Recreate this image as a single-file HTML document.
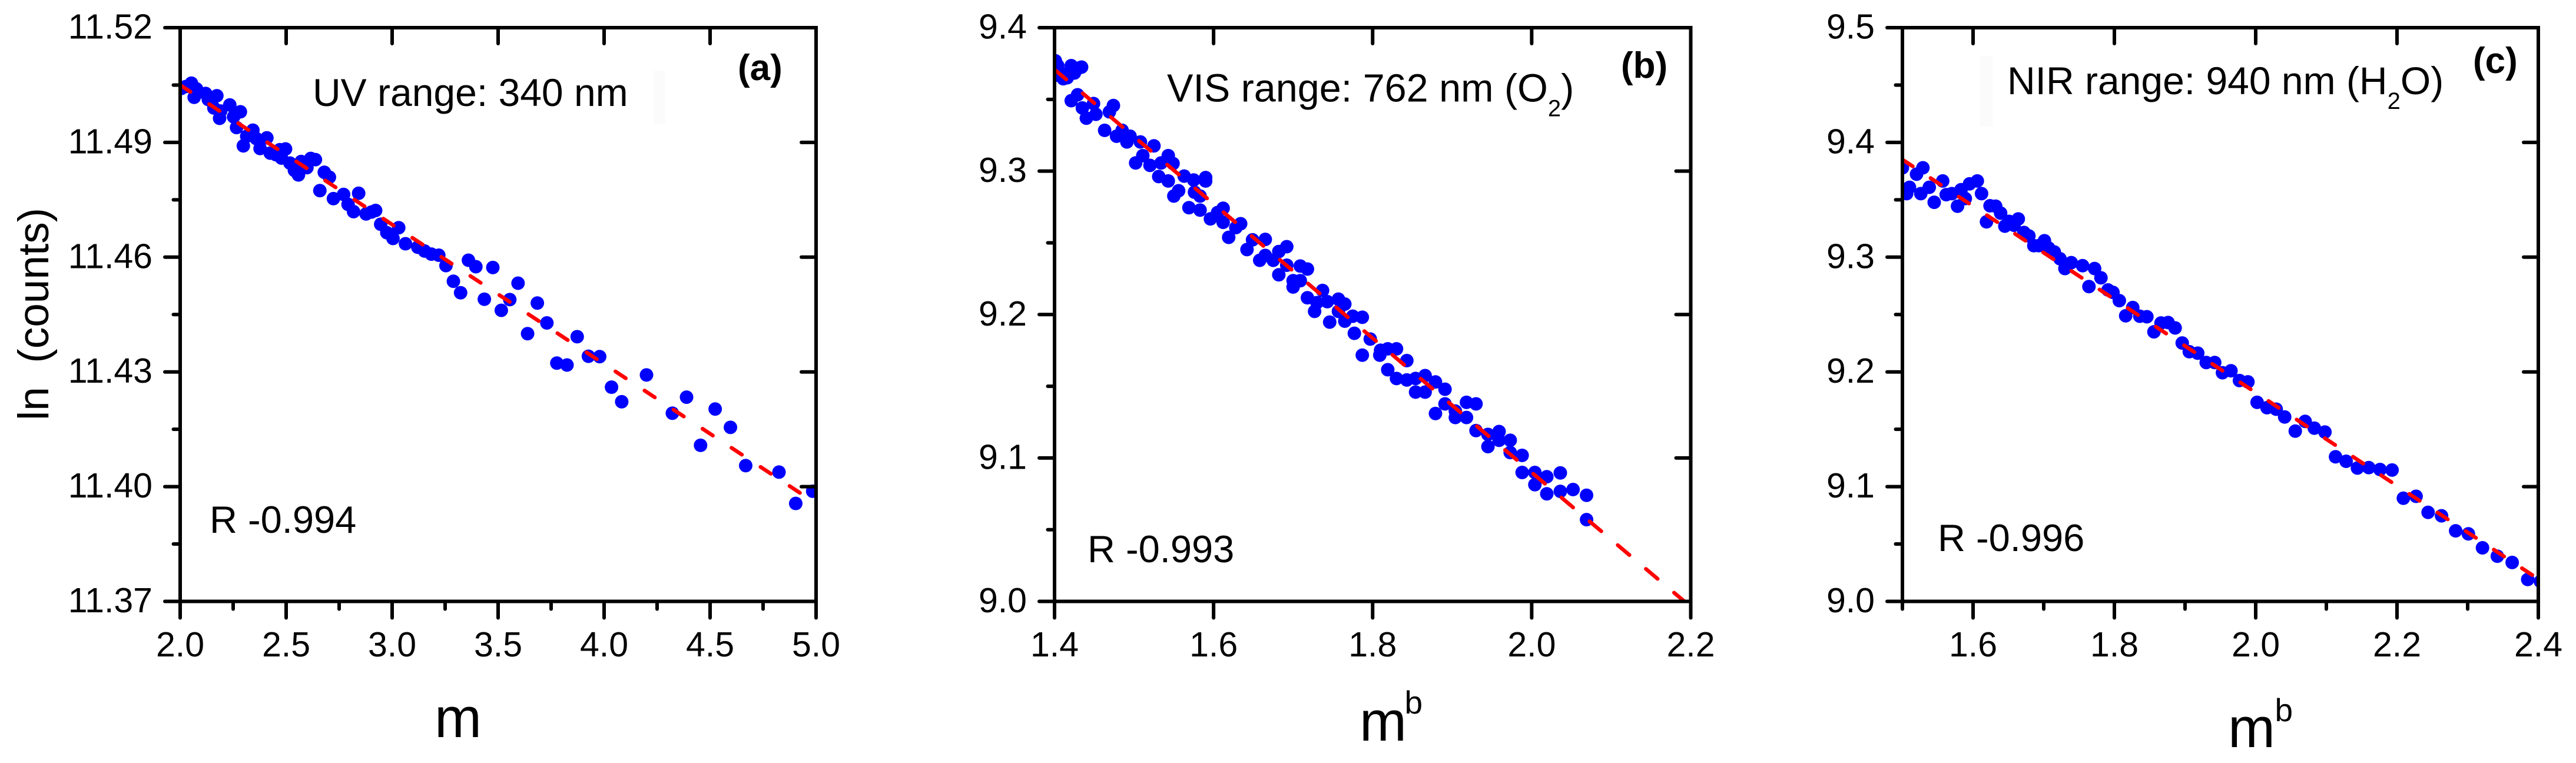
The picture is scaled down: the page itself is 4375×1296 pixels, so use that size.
<!DOCTYPE html>
<html lang="en">
<head>
<meta charset="utf-8">
<title>ln(counts) versus air mass: UV, VIS and NIR ranges</title>
<style>
  html, body { margin: 0; padding: 0; background: #fff; }
  svg { display: block; font-family: "Liberation Sans", sans-serif; fill: #000; }
</style>
</head>
<body>
<svg id="figure" xmlns="http://www.w3.org/2000/svg" width="4375" height="1296" viewBox="0 0 4375 1296">
  <rect x="0" y="0" width="4375" height="1296" fill="#ffffff"/>
  <defs>
    <clipPath id="clip-a"><rect x="306" y="47" width="1080" height="974.5"/></clipPath>
    <clipPath id="clip-b"><rect x="1791" y="47" width="1080.5" height="974.5"/></clipPath>
    <clipPath id="clip-c"><rect x="3231" y="47" width="1080" height="974.5"/></clipPath>
  </defs>

  <g id="panel-a"></g>
  <g id="panel-b"></g>
  <g id="panel-c"></g>

  <rect x="1110" y="120" width="20" height="91" fill="#fbfbfb"/>
  <rect x="3363" y="95" width="21" height="120" fill="#fbfbfb"/>

  <text transform="translate(82 714) rotate(-90)" font-size="73">ln&#160;&#160;(counts)</text>

  <text x="738" y="1252" font-size="96">m</text>
  <text x="2309" y="1258" font-size="96">m</text>
  <text x="2385.5" y="1212" font-size="55">b</text>
  <text x="3784" y="1269" font-size="96">m</text>
  <text x="3863.5" y="1225" font-size="55">b</text>

  <text x="531" y="180" font-size="66">UV range: 340 nm</text>
  <text x="356" y="905" font-size="65">R -0.994</text>
  <text x="1253" y="136" font-size="62" font-weight="bold">(a)</text>

  <text x="1982" y="172.5" font-size="66.5">VIS range: 762 nm (O<tspan font-size="40" dy="25">2</tspan><tspan dy="-25">)</tspan></text>
  <text x="1847" y="955" font-size="65">R -0.993</text>
  <text x="2753" y="132" font-size="62" font-weight="bold">(b)</text>

  <text x="3409" y="160" font-size="66">NIR range: 940 nm (H<tspan font-size="40" dy="25">2</tspan><tspan dy="-25">O)</tspan></text>
  <text x="3291" y="936" font-size="65">R -0.996</text>
  <text x="4200" y="124" font-size="62" font-weight="bold">(c)</text>
</svg>

<script>
// ---------- Panel (a) data ----------
const aXTickLabels = ["2.0","2.5","3.0","3.5","4.0","4.5","5.0"];
const aYTickLabels = ["11.37","11.40","11.43","11.46","11.49","11.52"];
const aXMinorTicks = [2.25,2.75,3.25,3.75,4.25,4.75];
const aYMinorTicks = [11.385,11.415,11.445,11.475,11.505];
const aFitX = [2.0,5.0];
const aFitY = [11.505,11.3956];
const aX = [2.005,2.027,2.053,2.077,2.066,2.120,2.133,2.173,2.159,2.191,2.186,2.234,2.252,2.284,2.266,2.343,2.298,2.314,2.359,2.377,2.409,2.425,2.452,2.470,2.478,2.497,2.518,2.539,2.558,2.571,2.598,2.616,2.638,2.659,2.680,2.704,2.723,2.771,2.792,2.818,2.842,2.877,2.903,2.922,2.946,2.975,3.004,3.031,3.063,3.121,3.153,3.185,3.220,3.254,3.289,3.323,3.360,3.395,3.435,3.475,3.515,3.555,3.594,3.639,3.685,3.730,3.777,3.825,3.873,3.926,3.979,4.035,4.083,4.200,4.322,4.389,4.455,4.524,4.596,4.668,4.825,4.904,4.984];
const aY = [11.5041,11.5046,11.5055,11.5040,11.5018,11.5028,11.5012,11.5022,11.4990,11.4982,11.4963,11.4998,11.4967,11.4980,11.4939,11.4932,11.4891,11.4916,11.4910,11.4884,11.4912,11.4872,11.4868,11.4881,11.4859,11.4883,11.4846,11.4827,11.4815,11.4850,11.4834,11.4858,11.4855,11.4774,11.4822,11.4809,11.4753,11.4764,11.4738,11.4719,11.4767,11.4713,11.4718,11.4722,11.4686,11.4664,11.4649,11.4677,11.4635,11.4626,11.4616,11.4608,11.4605,11.4578,11.4537,11.4507,11.4592,11.4575,11.4490,11.4573,11.4461,11.4489,11.4532,11.4400,11.4480,11.4428,11.4323,11.4318,11.4392,11.4341,11.4340,11.4260,11.4222,11.4292,11.4192,11.4234,11.4108,11.4203,11.4155,11.4055,11.4038,11.3956,11.3988];

// ---------- Panel (b) data ----------
const bXTickLabels = ["1.4","1.6","1.8","2.0","2.2"];
const bYTickLabels = ["9.0","9.1","9.2","9.3","9.4"];
const bXMinorTicks = [];
const bYMinorTicks = [9.05,9.15,9.25,9.35];
const bFitX = [1.4,2.192];
const bFitY = [9.3708,9.0];
const bX = [1.401,1.404,1.401,1.408,1.416,1.421,1.425,1.434,1.430,1.411,1.421,1.429,1.435,1.440,1.449,1.452,1.463,1.469,1.474,1.478,1.485,1.495,1.491,1.508,1.502,1.511,1.525,1.520,1.534,1.531,1.543,1.549,1.543,1.550,1.556,1.563,1.575,1.576,1.569,1.583,1.583,1.590,1.590,1.596,1.605,1.612,1.612,1.619,1.628,1.634,1.642,1.649,1.658,1.665,1.665,1.675,1.682,1.682,1.692,1.692,1.700,1.700,1.709,1.709,1.718,1.718,1.727,1.730,1.737,1.746,1.743,1.757,1.757,1.765,1.765,1.777,1.775,1.787,1.787,1.797,1.809,1.810,1.819,1.819,1.830,1.830,1.843,1.843,1.854,1.854,1.866,1.866,1.879,1.879,1.891,1.891,1.904,1.904,1.918,1.918,1.930,1.930,1.945,1.945,1.959,1.959,1.973,1.973,1.988,1.988,2.004,2.004,2.019,2.019,2.036,2.036,2.052,2.069,2.069];
const bY = [9.3769,9.3735,9.3668,9.3684,9.3651,9.3735,9.3684,9.3725,9.3718,9.3644,9.3491,9.3532,9.3440,9.3369,9.3471,9.3396,9.3284,9.3413,9.3457,9.3243,9.3284,9.3243,9.3203,9.3203,9.3057,9.3108,9.3176,9.3040,9.3057,9.2962,9.3108,9.3053,9.2931,9.2826,9.2863,9.2965,9.2938,9.2853,9.2745,9.2728,9.2826,9.2931,9.2955,9.2667,9.2711,9.2741,9.2643,9.2538,9.2606,9.2633,9.2453,9.2521,9.2378,9.2524,9.2412,9.2378,9.2277,9.2439,9.2473,9.2344,9.2192,9.2236,9.2338,9.2236,9.2317,9.2117,9.2022,9.2083,9.2168,9.1947,9.2090,9.2107,9.2022,9.2073,9.1954,9.1869,9.1988,9.1981,9.1717,9.1829,9.1717,9.1751,9.1761,9.1615,9.1761,9.1554,9.1679,9.1544,9.1554,9.1459,9.1574,9.1459,9.1530,9.1310,9.1479,9.1377,9.1327,9.1282,9.1388,9.1282,9.1377,9.1191,9.1164,9.1079,9.1184,9.1123,9.1123,9.1038,9.1018,9.0899,9.0899,9.0814,9.0869,9.0750,9.0896,9.0767,9.0780,9.0740,9.0570];

// ---------- Panel (c) data ----------
const cXTickLabels = ["1.6","1.8","2.0","2.2","2.4"];
const cYTickLabels = ["9.0","9.1","9.2","9.3","9.4","9.5"];
const cXMinorTicks = [1.5,1.7,1.9,2.1,2.3];
const cYMinorTicks = [9.05,9.15,9.25,9.35,9.45];
const cFitX = [1.5,2.4];
const cFitY = [9.3851,9.0195];
const cX = [1.500,1.510,1.506,1.520,1.529,1.526,1.538,1.545,1.557,1.562,1.570,1.578,1.583,1.589,1.595,1.606,1.612,1.619,1.624,1.632,1.639,1.645,1.651,1.658,1.664,1.672,1.679,1.686,1.693,1.701,1.707,1.715,1.723,1.730,1.739,1.755,1.764,1.772,1.781,1.791,1.798,1.807,1.816,1.826,1.836,1.846,1.856,1.866,1.876,1.886,1.896,1.906,1.918,1.930,1.942,1.953,1.965,1.977,1.989,2.002,2.016,2.029,2.041,2.056,2.070,2.083,2.098,2.113,2.128,2.144,2.160,2.176,2.193,2.209,2.227,2.244,2.263,2.283,2.301,2.321,2.342,2.363,2.385,2.403];
const cY = [9.3779,9.3609,9.3554,9.3723,9.3779,9.3554,9.3609,9.3478,9.3664,9.3545,9.3554,9.3444,9.3588,9.3511,9.3639,9.3664,9.3554,9.3308,9.3448,9.3444,9.3384,9.3270,9.3312,9.3278,9.3333,9.3215,9.3185,9.3100,9.3100,9.3143,9.3079,9.3045,9.2986,9.2901,9.2952,9.2926,9.2744,9.2901,9.2820,9.2714,9.2693,9.2621,9.2489,9.2561,9.2485,9.2481,9.2349,9.2426,9.2430,9.2383,9.2252,9.2176,9.2163,9.2082,9.2082,9.1993,9.2010,9.1925,9.1913,9.1735,9.1688,9.1675,9.1607,9.1484,9.1569,9.1510,9.1476,9.1260,9.1221,9.1162,9.1166,9.1149,9.1145,9.0899,9.0916,9.0776,9.0746,9.0615,9.0589,9.0467,9.0394,9.0339,9.0191,9.0174];

const SVG_NS = "http://www.w3.org/2000/svg";

function makeEl(parent, tag) {
  const el = document.createElementNS(SVG_NS, tag);
  parent.appendChild(el);
  return el;
}

function drawPanel(id, left, right, top, bottom, xMin, xMax, yMin, yMax, xLabels, yLabels, xMinors, yMinors, fitX, fitY, xs, ys, dash) {
  const root = document.getElementById("panel-" + id);
  const xScale = function (v) { return left + (v - xMin) / (xMax - xMin) * (right - left); };
  const yScale = function (v) { return bottom - (v - yMin) / (yMax - yMin) * (bottom - top); };

  const plot = makeEl(root, "g");
  plot.setAttribute("clip-path", "url(#clip-" + id + ")");
  
  

  xs.forEach(function (xv, i) {
    const dot = makeEl(plot, "circle");
    dot.setAttribute("cx", xScale(xv));
    dot.setAttribute("cy", yScale(ys[i]));
    dot.setAttribute("r", 11.5);
    dot.setAttribute("fill", "#0000ff");
    
    
  });

  const fit = makeEl(plot, "line");
  fit.setAttribute("x1", xScale(fitX[0]));
  fit.setAttribute("y1", yScale(fitY[0]));
  fit.setAttribute("x2", xScale(fitX[1]));
  fit.setAttribute("y2", yScale(fitY[1]));
  fit.setAttribute("stroke", "#ff0000");
  fit.setAttribute("stroke-width", 6.5);
  fit.setAttribute("stroke-linecap", "round");
  fit.setAttribute("stroke-dasharray", dash);
  
  

  const tick = function (x1, y1, x2, y2) {
    const t = makeEl(root, "line");
    t.setAttribute("x1", x1);
    t.setAttribute("y1", y1);
    t.setAttribute("x2", x2);
    t.setAttribute("y2", y2);
    t.setAttribute("stroke", "#000");
    t.setAttribute("stroke-width", 6);
    t.setAttribute("stroke-linecap", "round");
    
    
  };

  xLabels.forEach(function (label) {
    const px = xScale(parseFloat(label));
    tick(px, bottom, px, bottom + 28);
    tick(px, top, px, top + 27);
    const tx = makeEl(root, "text");
    tx.textContent = label;
    tx.setAttribute("x", px);
    tx.setAttribute("y", 1115);
    tx.setAttribute("font-size", 59);
    tx.setAttribute("text-anchor", "middle");
    
    
  });

  xMinors.forEach(function (v) {
    const px = xScale(v);
    tick(px, bottom, px, bottom + 13);
  });

  yLabels.forEach(function (label) {
    const py = yScale(parseFloat(label));
    tick(left - 26, py, left, py);
    tick(right - 25, py, right, py);
    const ty = makeEl(root, "text");
    ty.textContent = label;
    ty.setAttribute("x", left - 47);
    ty.setAttribute("y", py + 18.5);
    ty.setAttribute("font-size", 59);
    ty.setAttribute("text-anchor", "end");
    
    
  });

  yMinors.forEach(function (v) {
    const py = yScale(v);
    tick(left - 11.5, py, left, py);
  });

  const frame = makeEl(root, "rect");
  frame.setAttribute("x", left);
  frame.setAttribute("y", top);
  frame.setAttribute("width", right - left);
  frame.setAttribute("height", bottom - top);
  frame.setAttribute("fill", "none");
  frame.setAttribute("stroke", "#000");
  frame.setAttribute("stroke-width", 6);
  
  
}

drawPanel("a", 306, 1386, 47, 1021.5, 2.0, 5.0, 11.37, 11.52, aXTickLabels, aYTickLabels, aXMinorTicks, aYMinorTicks, aFitX, aFitY, aX, aY, "21 38");
drawPanel("b", 1791, 2871.5, 47, 1021.5, 1.4, 2.2, 9.0, 9.4, bXTickLabels, bYTickLabels, bXMinorTicks, bYMinorTicks, bFitX, bFitY, bX, bY, "26 36.6");
drawPanel("c", 3231, 4311, 47, 1021.5, 1.5, 2.4, 9.0, 9.5, cXTickLabels, cYTickLabels, cXMinorTicks, cYMinorTicks, cFitX, cFitY, cX, cY, "21 36.3");
</script>
</body>
</html>
